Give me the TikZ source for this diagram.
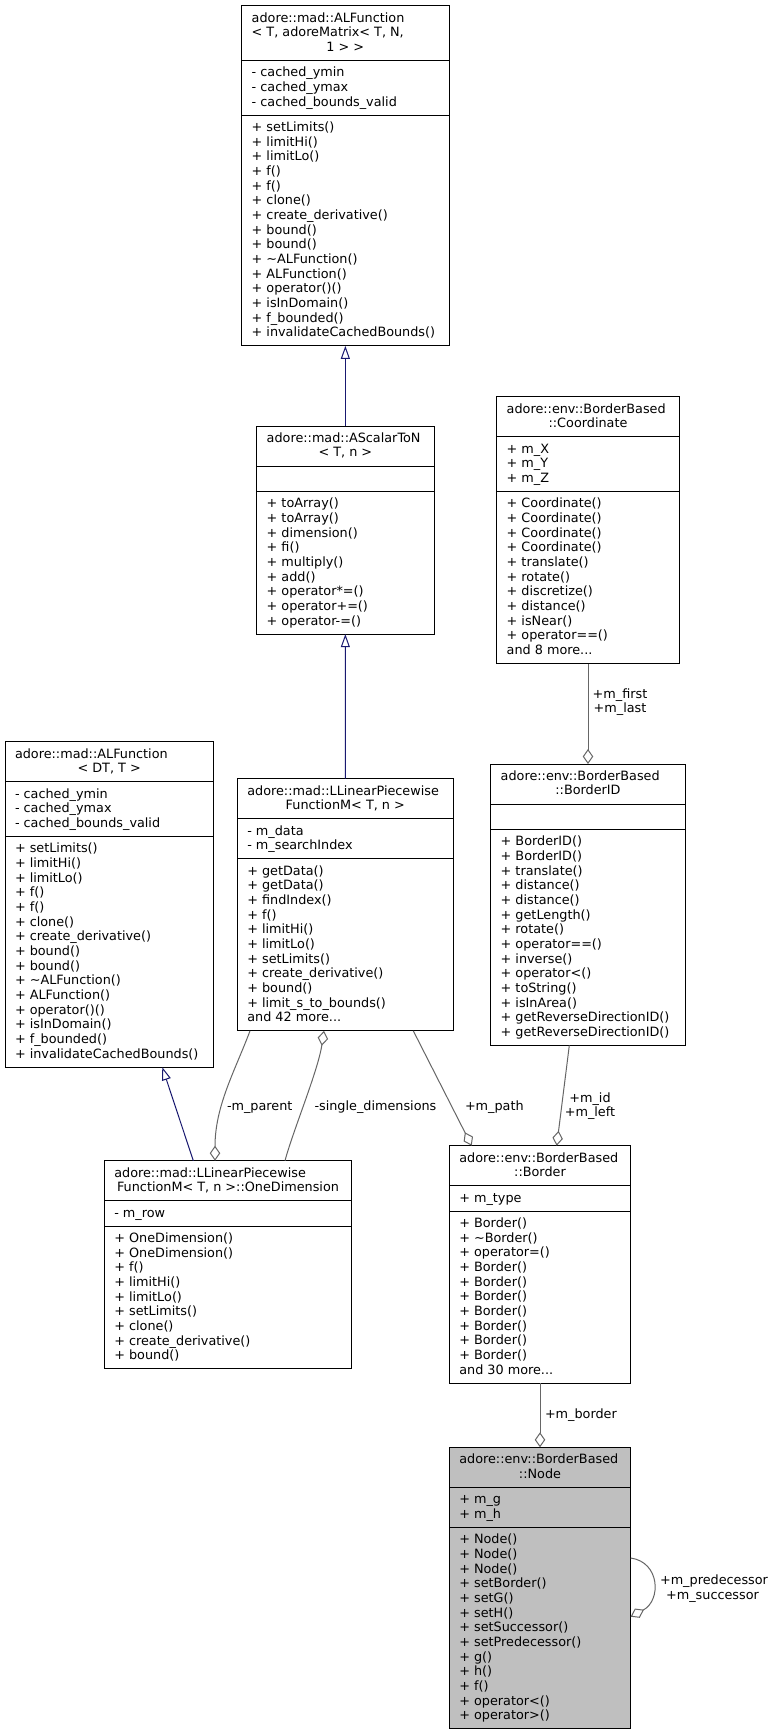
\documentclass[tikz,border=0pt]{standalone}
\usepackage{fontspec}
\setmainfont{DejaVu Sans}
\usetikzlibrary{arrows.meta}
\definecolor{edgegray}{HTML}{666666}
\definecolor{inhblue}{HTML}{191970}
\definecolor{focusgray}{HTML}{BFBFBF}
\tikzset{
 box/.style={draw=black, line width=1pt, inner sep=0pt, outer sep=0pt},
 sepline/.style={draw=black, line width=1pt},
 txt/.style={inner sep=0pt, outer sep=0pt, font=\fontsize{12.8}{14.67}\selectfont},
 inh/.style={draw=inhblue, line width=1pt, -{Triangle[open, length=13pt, width=9pt]}},
 assoc/.style={draw=edgegray, line width=1pt, -{Diamond[open, length=15pt, width=10.5pt]}},
}
% class box: name, x1, x2, top, n1, n2, n3, fill
\newcommand\cls[8]{%
 \pgfmathsetmacro\cw{#3-#2}%
 \pgfmathsetmacro\ha{14.67*#5+10.7}%
 \pgfmathsetmacro\hb{14.67*#6+10.7}%
 \pgfmathsetmacro\hc{14.67*#7+10.7}%
 \pgfmathsetmacro\ch{\ha+\hb+\hc}%
 \pgfmathsetmacro\hab{\ha+\hb}%
 \node[box, fill=#8, minimum width=\cw pt, minimum height=\ch pt, anchor=north west] (#1) at (#2,#4) {};
 \draw[sepline] ([yshift=-\ha pt]#1.north west) -- ([yshift=-\ha pt]#1.north east);
 \draw[sepline] ([yshift=-\hab pt]#1.north west) -- ([yshift=-\hab pt]#1.north east);
}
% text lines: name prefix, x, first baseline, list
\newcommand\tlines[4]{%
 \foreach \itm [count=\i from 0] in {#4} {\node[txt, anchor=base west] (#1\i) at (#2,{#3+14.67*\i}) {\itm};}%
}
\begin{document}
\begin{tikzpicture}[x=1pt,y=-1pt]
\fill[white] (0,0) rectangle (775,1735);
\useasboundingbox (0,0) rectangle (775,1735);

% ALFunction< T, adoreMatrix< T, N, 1 > >
\cls{alfT}{241.7}{449}{5.7}{3}{3}{15}{white}
\node[txt, anchor=base west] (alfTh0) at (251.7,22.0) {adore::mad::ALFunction};
\node[txt, anchor=base west] (alfTh1) at (251.7,36.67) {< T, adoreMatrix< T, N,};
\node[txt, anchor=base] (alfTh2) at (345.35,51.34) {1 > >};
\tlines{alfTa}{251.7}{76.71}{- cached\_ymin, - cached\_ymax, - cached\_bounds\_valid}
\tlines{alfTm}{251.7}{131.42}{+ setLimits(), + limitHi(), + limitLo(), + f(), + f(), + clone(), + create\_derivative(), + bound(), + bound(), + \textasciitilde ALFunction(), + ALFunction(), + operator()(), + isInDomain(), + f\_bounded(), + invalidateCachedBounds()}

% AScalarToN
\cls{asc}{256.7}{434}{426}{2}{1}{9}{white}
\node[txt, anchor=base west] (asch0) at (266.7,442.3) {adore::mad::AScalarToN};
\node[txt, anchor=base] (asch1) at (345.35,456.97) {< T, n >};
\tlines{ascm}{266.7}{507.71}{+ toArray(), + toArray(), + dimension(), + fi(), + multiply(), + add(), + operator*=(), + operator+=(), + operator-=()}

% Coordinate
\cls{coord}{496.7}{679.3}{396.7}{2}{3}{11}{white}
\node[txt, anchor=base west] (coordh0) at (506.7,413) {adore::env::BorderBased};
\node[txt, anchor=base] (coordh1) at (588,427.67) {::Coordinate};
\tlines{coorda}{506.7}{453.04}{+ m\_X, + m\_Y, + m\_Z}
\tlines{coordm}{506.7}{507.75}{+ Coordinate(), + Coordinate(), + Coordinate(), + Coordinate(), + translate(), + rotate(), + discretize(), + distance(), + isNear(), + operator==(), and 8 more.{}.{}.}

% ALFunction< DT, T >
\cls{alfDT}{5}{213.3}{741.7}{2}{3}{15}{white}
\node[txt, anchor=base west] (alfDTh0) at (15,758) {adore::mad::ALFunction};
\node[txt, anchor=base] (alfDTh1) at (109.15,772.67) {< DT, T >};
\tlines{alfDTa}{15}{798.04}{- cached\_ymin, - cached\_ymax, - cached\_bounds\_valid}
\tlines{alfDTm}{15}{852.75}{+ setLimits(), + limitHi(), + limitLo(), + f(), + f(), + clone(), + create\_derivative(), + bound(), + bound(), + \textasciitilde ALFunction(), + ALFunction(), + operator()(), + isInDomain(), + f\_bounded(), + invalidateCachedBounds()}

% LLinearPiecewiseFunctionM
\cls{llin}{237.3}{453.3}{778.7}{2}{2}{11}{white}
\node[txt, anchor=base west] (llinh0) at (247.3,795) {adore::mad::LLinearPiecewise};
\node[txt, anchor=base] (llinh1) at (345.3,809.67) {FunctionM< T, n >};
\tlines{llina}{247.3}{835.04}{- m\_data, - m\_searchIndex}
\tlines{llinm}{247.3}{875.08}{+ getData(), + getData(), + findIndex(), + f(), + limitHi(), + limitLo(), + setLimits(), + create\_derivative(), + bound(), + limit\_s\_to\_bounds(), and 42 more.{}.{}.}

% BorderID
\cls{bid}{490.7}{685.3}{764}{2}{1}{14}{white}
\node[txt, anchor=base west] (bidh0) at (500.7,780.3) {adore::env::BorderBased};
\node[txt, anchor=base] (bidh1) at (588,794.97) {::BorderID};
\tlines{bidm}{500.7}{845.71}{+ BorderID(), + BorderID(), + translate(), + distance(), + distance(), + getLength(), + rotate(), + operator==(), + inverse(), + operator<(), + toString(), + isInArea(), + getReverseDirectionID(), + getReverseDirectionID()}

% OneDimension
\cls{oned}{104.3}{351.7}{1160.7}{2}{1}{9}{white}
\node[txt, anchor=base west] (onedh0) at (114.3,1177) {adore::mad::LLinearPiecewise};
\node[txt, anchor=base] (onedh1) at (228,1191.67) {FunctionM< T, n >::OneDimension};
\tlines{oneda}{114.3}{1217.04}{- m\_row}
\tlines{onedm}{114.3}{1242.41}{+ OneDimension(), + OneDimension(), + f(), + limitHi(), + limitLo(), + setLimits(), + clone(), + create\_derivative(), + bound()}

% Border
\cls{border}{449.3}{630.7}{1145.7}{2}{1}{11}{white}
\node[txt, anchor=base west] (borderh0) at (459.3,1162) {adore::env::BorderBased};
\node[txt, anchor=base] (borderh1) at (540,1176.67) {::Border};
\tlines{bordera}{459.3}{1202.04}{+ m\_type}
\tlines{borderm}{459.3}{1227.41}{+ Border(), + \textasciitilde Border(), + operator=(), + Border(), + Border(), + Border(), + Border(), + Border(), + Border(), + Border(), and 30 more.{}.{}.}

% Node (focus)
\cls{bbnode}{449.3}{630.7}{1447.3}{2}{2}{13}{focusgray}
\node[txt, anchor=base west] (bbnodeh0) at (459.3,1463.6) {adore::env::BorderBased};
\node[txt, anchor=base] (bbnodeh1) at (540,1478.27) {::Node};
\tlines{bbnodea}{459.3}{1503.64}{+ m\_g, + m\_h}
\tlines{bbnodem}{459.3}{1543.68}{+ Node(), + Node(), + Node(), + setBorder(), + setG(), + setH(), + setSuccessor(), + setPredecessor(), + g(), + h(), + f(), + operator<(), + operator>()}

% inheritance edges
\draw[inh] (asc.north) -- (alfT.south);
\draw[inh] (llin.north) -- (asc.south);
\draw[inh] ([xshift=89pt]oned.north west) -- ([xshift=157.3pt]alfDT.south west);

% association edges
\draw[assoc] (coord.south) -- (bid.north);
\draw[assoc] ([xshift=12.7pt]llin.south west) .. controls +(-15,40) and +(0,-55) .. ([xshift=110.7pt]oned.north west);
\draw[assoc] ([xshift=180.7pt]oned.north west) .. controls +(8,-30) and +(-6,40) .. ([xshift=86.7pt]llin.south west);
\draw[assoc] ([xshift=176pt]llin.south west) -- ([xshift=22.4pt]border.north west);
\draw[assoc] ([xshift=78.6pt]bid.south west) -- ([xshift=107.4pt]border.north west);
\draw[assoc] (border.south) -- (bbnode.north);
\draw[assoc] ([yshift=-110.7pt]bbnode.north east) .. controls +(29.3,4) and +(30.8,-16.4) .. ([yshift=-169.4pt]bbnode.north east);

% edge labels
\node[txt, anchor=base] (lfirst) at (620,698.5) {+m\_first};
\node[txt, anchor=base] (llast) at (620,712.8) {+m\_last};
\node[txt, anchor=base west] (lparent) at (227,1110) {-m\_parent};
\node[txt, anchor=base west] (lsingle) at (314.5,1110.5) {-single\_dimensions};
\node[txt, anchor=base west] (lpath) at (465,1110) {+m\_path};
\node[txt, anchor=base] (lid) at (590,1102.5) {+m\_id};
\node[txt, anchor=base] (lleft) at (590,1116.2) {+m\_left};
\node[txt, anchor=base west] (lborder) at (545,1418.5) {+m\_border};
\node[txt, anchor=base] (lpred) at (714,1584.5) {+m\_predecessor};
\node[txt, anchor=base] (lsucc) at (712.5,1599.5) {+m\_successor};
\end{tikzpicture}
\end{document}
